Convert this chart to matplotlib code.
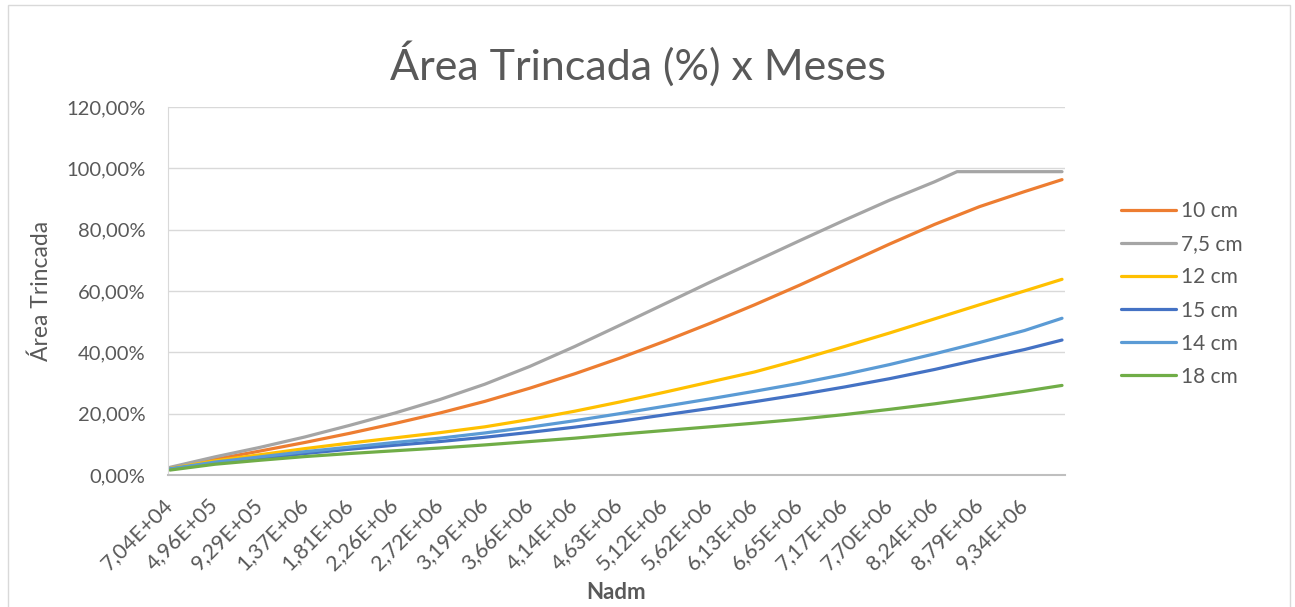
import matplotlib
matplotlib.use("Agg")
import matplotlib.pyplot as plt
from matplotlib.patches import Rectangle

plt.rcParams['font.family'] = ['Lato', 'DejaVu Sans']

# categorias (meses) onde os valores foram lidos: a cada 6 meses + ultimo mes
cat_idx = [0, 6, 12, 18, 24, 30, 36, 42, 48, 54, 60, 66, 72, 78, 84, 90, 96, 102, 108, 114, 119]
cat_idx_75 = [0, 6, 12, 18, 24, 30, 36, 42, 48, 54, 60, 66, 72, 78, 84, 90, 96, 102, 105, 108, 114, 119]

# rotulos do eixo x (Nadm), um a cada 6 categorias
nadm_labels = ["7,04E+04", "4,96E+05", "9,29E+05", "1,37E+06", "1,81E+06",
               "2,26E+06", "2,72E+06", "3,19E+06", "3,66E+06", "4,14E+06",
               "4,63E+06", "5,12E+06", "5,62E+06", "6,13E+06", "6,65E+06",
               "7,17E+06", "7,70E+06", "8,24E+06", "8,79E+06", "9,34E+06"]

# area trincada (%)
a_10 = [2.2, 5.1, 7.8, 10.6, 13.6, 16.8, 20.2, 24.0, 28.3, 33.0, 38.1, 43.6, 49.4,
        55.5, 61.9, 68.6, 75.3, 81.7, 87.5, 92.4, 96.3]
a_75 = [2.5, 5.9, 9.0, 12.4, 16.2, 20.2, 24.6, 29.6, 35.4, 41.9, 48.8, 55.8, 62.8,
        69.6, 76.4, 83.1, 89.6, 95.6, 98.9, 98.9, 98.9, 98.9]
a_12 = [2.1, 4.6, 6.6, 8.6, 10.4, 12.1, 13.8, 15.7, 18.1, 20.8, 23.8, 27.0, 30.3,
        33.6, 37.6, 41.9, 46.3, 50.9, 55.5, 60.0, 63.8]
a_15 = [1.9, 3.8, 5.4, 7.0, 8.4, 9.7, 10.9, 12.3, 13.9, 15.6, 17.5, 19.6, 21.7,
        23.9, 26.2, 28.7, 31.4, 34.4, 37.7, 40.9, 44.0]
a_14 = [2.0, 4.2, 5.9, 7.6, 9.1, 10.6, 12.0, 13.7, 15.6, 17.7, 20.0, 22.4, 24.8,
        27.3, 29.9, 32.8, 36.0, 39.5, 43.2, 47.1, 51.1]
a_18 = [1.6, 3.5, 4.8, 6.0, 7.0, 7.9, 8.8, 9.8, 10.9, 12.0, 13.3, 14.5, 15.7,
        16.9, 18.2, 19.7, 21.4, 23.2, 25.2, 27.3, 29.2]

series = [
    ("10 cm", cat_idx, a_10, "#ED7D31"),
    ("7,5 cm", cat_idx_75, a_75, "#A5A5A5"),
    ("12 cm", cat_idx, a_12, "#FFC000"),
    ("15 cm", cat_idx, a_15, "#4472C4"),
    ("14 cm", cat_idx, a_14, "#5B9BD5"),
    ("18 cm", cat_idx, a_18, "#70AD47"),
]

txt = "#595959"

fig = plt.figure(figsize=(12.95, 6.07), dpi=100)
fig.patches.append(Rectangle((0.0062, -0.01), 0.990, 1.002, transform=fig.transFigure,
                             fill=False, edgecolor="#D9D9D9", linewidth=1.0))
ax = fig.add_axes([0.1297, 0.2175, 0.6927, 0.6063])

for name, xs, ys, cor in series:
    ax.plot(xs, ys, color=cor, linewidth=2.3, label=name, solid_capstyle='round')

ax.set_xlim(-0.27, 119.4)
ax.set_ylim(0, 120)
yt = [0, 20, 40, 60, 80, 100, 120]
ax.set_yticks(yt)
ax.set_yticklabels([("%.2f%%" % v).replace(".", ",") for v in yt], fontsize=14.5, color=txt)
ax.set_xticks(cat_idx[:-1])
ax.set_xticklabels(nadm_labels, rotation=45, ha='right', va='center',
                   rotation_mode='anchor', fontsize=15.5, color=txt)
ax.tick_params(axis='both', length=0)
ax.tick_params(axis='x', pad=19)
ax.tick_params(axis='y', pad=16)

ax.grid(axis='y', color="#D9D9D9", linewidth=1.0)
ax.set_axisbelow(True)
for s in ['top', 'right']:
    ax.spines[s].set_visible(False)
ax.spines['left'].set_color("#D9D9D9")
ax.spines['bottom'].set_color("#BFBFBF")
ax.spines['bottom'].set_linewidth(1.5)

ax.set_ylabel("Área Trincada", fontsize=16.5, color=txt)
ax.yaxis.set_label_coords(-0.129, 0.5)
ax.set_xlabel("Nadm", fontsize=16, color=txt, fontweight='bold')
ax.xaxis.set_label_coords(0.5, -0.29)
fig.text(0.4923, 0.868, "Área Trincada (%) x Meses", fontsize=31, color=txt, ha='center')

ax.legend(loc='center left', bbox_to_anchor=(0.866, 0.5157), bbox_transform=fig.transFigure,
          frameon=False, fontsize=15, handlelength=2.6, handletextpad=0.24,
          labelspacing=0.63, borderpad=0, borderaxespad=0, labelcolor=txt)

fig.savefig("out.png", dpi=100)
